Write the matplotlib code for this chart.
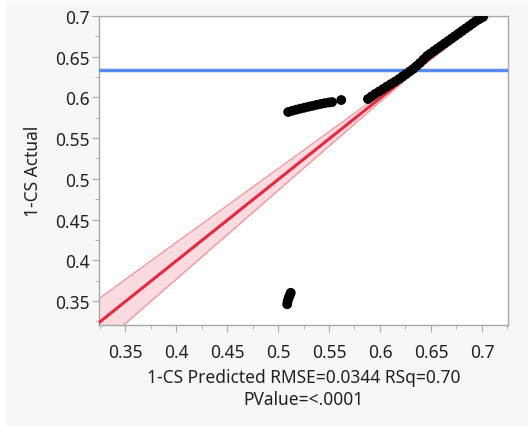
import numpy as np
import matplotlib.pyplot as plt
from matplotlib.patches import Rectangle
from matplotlib.ticker import MultipleLocator

plt.rcParams['font.family'] = ['Noto Sans', 'DejaVu Sans']

# titik data
klaster_x = [0.5090, 0.5095, 0.5105, 0.5115, 0.5125]
klaster_y = [0.3460, 0.3500, 0.3540, 0.3570, 0.3600]

segmen_x = [0.510, 0.514, 0.518, 0.522, 0.526, 0.530, 0.534, 0.538, 0.542, 0.546, 0.550, 0.553, 0.562]
segmen_y = [0.5821, 0.5836, 0.5850, 0.5862, 0.5874, 0.5886, 0.5897, 0.5909, 0.5920, 0.5930, 0.5938, 0.5943, 0.5968]

kurva_x = [0.5882, 0.5916, 0.5951, 0.5990, 0.6029, 0.6068, 0.6108, 0.6147, 0.6186, 0.6220,
           0.6255, 0.6290, 0.6324, 0.6358, 0.6392, 0.6426, 0.6461, 0.6495, 0.6529, 0.6563,
           0.6598, 0.6632, 0.6667, 0.6701, 0.6735, 0.6770, 0.6804, 0.6838, 0.6873, 0.6907,
           0.6941, 0.6975, 0.7010]
kurva_y = [0.5980, 0.6011, 0.6042, 0.6072, 0.6103, 0.6134, 0.6165, 0.6195, 0.6226, 0.6256,
           0.6287, 0.6318, 0.6349, 0.6386, 0.6423, 0.6466, 0.6509, 0.6540, 0.6570, 0.6600,
           0.6631, 0.6662, 0.6693, 0.6723, 0.6754, 0.6785, 0.6816, 0.6846, 0.6877, 0.6908,
           0.6939, 0.6963, 0.6988]

# garis fit dan pita kepercayaan
pita_x = [0.3245, 0.35, 0.40, 0.45, 0.50, 0.55, 0.60, 0.62, 0.64, 0.66, 0.68, 0.70, 0.7255]
fit_y = [0.3235, 0.349, 0.399, 0.449, 0.499, 0.549, 0.599, 0.619, 0.639, 0.659, 0.679, 0.699, 0.7245]
pita_bawah = [0.2940, 0.3218, 0.3764, 0.4310, 0.4856, 0.5402, 0.5945, 0.6162, 0.6370, 0.6563, 0.6748, 0.6930, 0.7163]
pita_atas = [0.3530, 0.3762, 0.4216, 0.4670, 0.5124, 0.5578, 0.6035, 0.6218, 0.6410, 0.6617, 0.6832, 0.7050, 0.7327]

rata_rata_y = 0.6337

fig = plt.figure(figsize=(5.28, 4.27), dpi=100)
fig.patch.set_facecolor('white')
fig.patches.append(Rectangle((6 / 528, 0), 1, 1 - 3 / 427, transform=fig.transFigure,
                             facecolor='#f7f7f7', edgecolor='none', zorder=-10))

ax = fig.add_axes([99 / 528, 1 - 326 / 427, 409 / 528, 309 / 427])
ax.set_facecolor('white')

ax.fill_between(pita_x, pita_bawah, pita_atas, color='#fcdbe0', lw=0, zorder=1)
ax.plot(pita_x, pita_bawah, color='#f5979f', lw=1, zorder=2)
ax.plot(pita_x, pita_atas, color='#f5979f', lw=1, zorder=2)
ax.plot(pita_x, fit_y, color='#e8283c', lw=2.2, zorder=3)
ax.axhline(rata_rata_y, color='#5a8cf0', lw=2.5, zorder=3)

semua_x = klaster_x + segmen_x + kurva_x
semua_y = klaster_y + segmen_y + kurva_y
ax.scatter(semua_x, semua_y, s=50, color='black', edgecolors='none', zorder=4)

ax.set_xlim(0.3245, 0.7255)
ax.set_ylim(0.3205, 0.7)
ax.xaxis.set_major_locator(MultipleLocator(0.05))
ax.xaxis.set_minor_locator(MultipleLocator(0.025))
ax.yaxis.set_major_locator(MultipleLocator(0.05))
ax.yaxis.set_minor_locator(MultipleLocator(0.025))
ax.xaxis.set_major_formatter(plt.FuncFormatter(lambda v, p: f"{v:.2f}".rstrip('0')))
ax.yaxis.set_major_formatter(plt.FuncFormatter(lambda v, p: f"{v:.2f}".rstrip('0')))

for s in ax.spines.values():
    s.set_color('#a8a8a8')
    s.set_linewidth(1)
ax.tick_params(which='major', length=5, color='#a8a8a8', labelsize=12.5, labelcolor='#222222')
ax.tick_params(which='minor', length=3, color='#a8a8a8')
ax.tick_params(axis='x', pad=8)
ax.tick_params(axis='y', pad=2)

ax.set_xlabel("1-CS Predicted RMSE=0.0344 RSq=0.70\nPValue=<.0001", fontsize=12.5,
              color='#222222', labelpad=5, linespacing=1.3)
ax.set_ylabel("1-CS Actual", fontsize=12.5, color='#222222', labelpad=9)

fig.savefig('out.png', dpi=100, facecolor=fig.get_facecolor())
